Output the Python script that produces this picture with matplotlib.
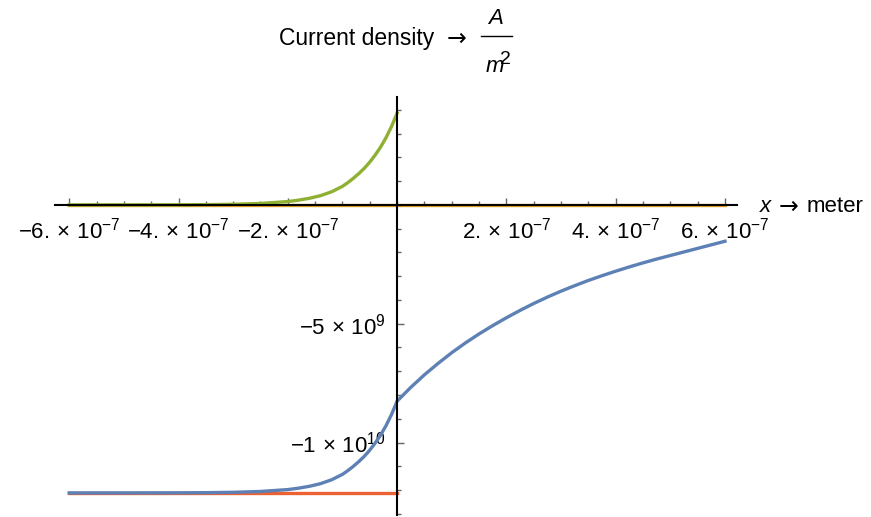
import matplotlib
matplotlib.use("Agg")
import matplotlib.pyplot as plt
from matplotlib.ticker import FixedLocator, FixedFormatter
from matplotlib.lines import Line2D
import numpy as np

plt.rcParams['font.family'] = ['Liberation Sans', 'DejaVu Sans']
plt.rcParams['mathtext.fontset'] = 'custom'
plt.rcParams['mathtext.rm'] = 'Liberation Sans'
plt.rcParams['mathtext.it'] = 'Liberation Sans:italic'

# positions in units of 1e-7 m, current density in units of 1e9 A/m^2
x_left = [-6, -5, -4, -3.5, -3, -2.5, -2, -1.8, -1.6, -1.4, -1.2, -1.0,
          -0.9, -0.8, -0.7, -0.6, -0.5, -0.4, -0.3, -0.2, -0.1, 0]
green_left = [0.0, 0.001, 0.004, 0.01, 0.025, 0.06, 0.14, 0.20, 0.28, 0.39, 0.55, 0.78,
              0.94, 1.12, 1.32, 1.54, 1.80, 2.10, 2.44, 2.84, 3.31, 3.86]
blue_left = [-12.12, -12.119, -12.116, -12.11, -12.095, -12.06, -11.98, -11.92, -11.84,
             -11.73, -11.57, -11.34, -11.18, -11.00, -10.80, -10.58, -10.32, -10.02,
             -9.68, -9.28, -8.81, -8.26]
red_left = [-12.12] * len(x_left)

x_right = [0, 0.25, 0.5, 0.75, 1, 1.25, 1.5, 1.75, 2, 2.25, 2.5, 2.75, 3,
           3.25, 3.5, 3.75, 4, 4.25, 4.5, 4.75, 5, 5.25, 5.5, 5.75, 6]
blue_right = [-8.26, -7.68, -7.15, -6.67, -6.22, -5.81, -5.43, -5.08, -4.75, -4.44,
              -4.15, -3.88, -3.63, -3.40, -3.18, -2.98, -2.79, -2.61, -2.44, -2.28,
              -2.13, -1.98, -1.83, -1.68, -1.53]

x_all = [-6, 6]
orange_all = [0, 0]

x_major = [-6, -4, -2, 2, 4, 6]
x_major_labels = [r'$-6.\times\,10^{-7}$', r'$-4.\times\,10^{-7}$',
                  r'$-2.\times\,10^{-7}$', r'$2.\times\,10^{-7}$',
                  r'$4.\times\,10^{-7}$', r'$6.\times\,10^{-7}$']
y_major = [-10, -5]
y_major_labels = [r'$-1\,\times\,10^{10}$', r'$-5\,\times\,10^{9}$']

blue = '#5E81B5'
orange = '#E19C24'
green = '#8FB032'
red = '#EB6235'

fig = plt.figure(figsize=(8.71, 5.17), dpi=100)
ax = fig.add_axes([55 / 871, 2 / 517, 682 / 871, 418 / 517])

ex = 1e-7
ey = 1e9
lw = 2.4
ax.plot(np.array(x_all) * ex, np.array(orange_all) * ey, color=orange, lw=lw, zorder=1)
ax.plot(np.array(x_left) * ex, np.array(red_left) * ey, color=red, lw=lw, zorder=2)
ax.plot(np.array(x_left) * ex, np.array(green_left) * ey, color=green, lw=lw, zorder=2)
ax.plot(np.array(x_left + x_right[1:]) * ex, np.array(blue_left + blue_right[1:]) * ey,
        color=blue, lw=lw, zorder=2)

ax.set_xlim(-6.26e-7, 6.22e-7)
ax.set_ylim(-13.05e9, 4.54e9)

for s in ['top', 'right']:
    ax.spines[s].set_visible(False)
ax.spines['left'].set_position(('data', 0))
ax.spines['bottom'].set_position(('data', 0))
for s in ['left', 'bottom']:
    ax.spines[s].set_linewidth(1.5)
    ax.spines[s].set_color('black')
    ax.spines[s].set_zorder(3)

ax.xaxis.set_major_locator(FixedLocator(np.array(x_major) * ex))
ax.xaxis.set_major_formatter(FixedFormatter(x_major_labels))
ax.xaxis.set_minor_locator(FixedLocator(np.arange(-6, 6.01, 0.5) * ex))
ax.yaxis.set_major_locator(FixedLocator(np.array(y_major) * ey))
ax.yaxis.set_major_formatter(FixedFormatter(y_major_labels))
ax.yaxis.set_minor_locator(FixedLocator(np.arange(-13, 4.01, 1) * ey))

ax.tick_params(which='both', direction='in', color='#666666', width=1.0,
               labelsize=16, labelcolor='black')
ax.tick_params(which='major', length=5)
ax.tick_params(which='minor', length=3)
ax.tick_params(axis='x', pad=9)
ax.tick_params(axis='y', pad=8)

# axis captions
fig.text(759 / 871, 1 - 207 / 517, r'$x$', fontsize=16, ha='left', va='center')
fig.text(789 / 871, 1 - 207 / 517, '→', fontsize=17, family='DejaVu Sans',
         ha='center', va='center')
fig.text(807 / 871, 1 - 207 / 517, 'meter', fontsize=16, ha='left', va='center')

fig.text(279 / 871, 1 - 39 / 517, 'Current density', fontsize=16.5, ha='left', va='center')
fig.text(457 / 871, 1 - 39 / 517, '→', fontsize=17, family='DejaVu Sans',
         ha='center', va='center')
fig.text(495 / 871, 1 - 18 / 517, r'$A$', fontsize=16, ha='center', va='center')
fig.add_artist(Line2D([481 / 871, 512 / 871], [1 - 36 / 517, 1 - 36 / 517],
                      color='black', lw=1.0, transform=fig.transFigure))
fig.text(495 / 871, 1 - 67 / 517, r'$m$', fontsize=16, ha='center', va='center')
fig.text(505 / 871, 1 - 60 / 517, '2', fontsize=14, ha='center', va='center')

fig.savefig('out.png', dpi=100)
